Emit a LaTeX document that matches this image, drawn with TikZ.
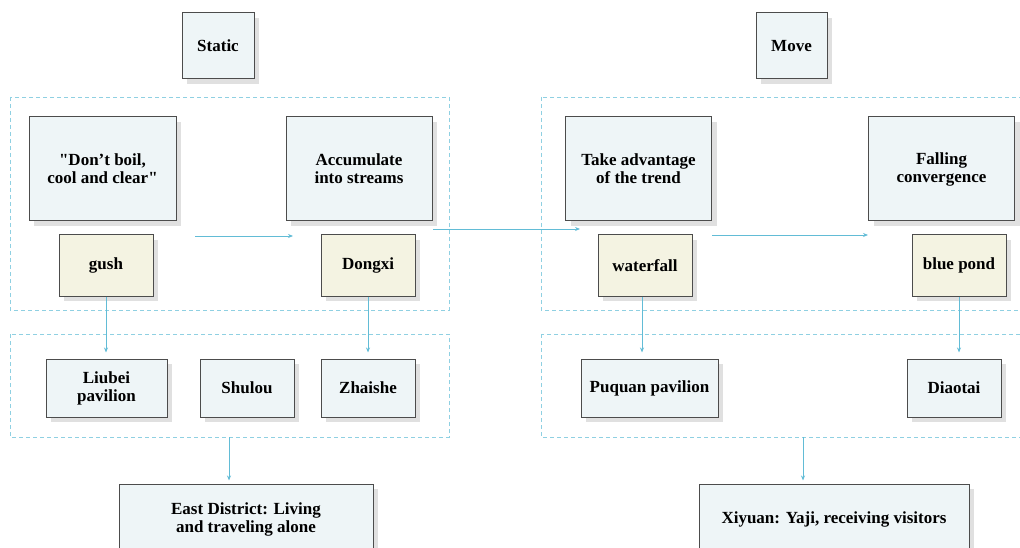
\documentclass[tikz,border=0pt]{standalone}
\usepackage{fontspec}
\setmainfont{Liberation Serif}[Ligatures=TeXOff]
\usetikzlibrary{shapes, positioning, shadows, arrows.meta}
\definecolor{boxfill}{HTML}{EEF5F7}
\definecolor{leaffill}{HTML}{F4F3E2}
\definecolor{linkblue}{HTML}{62BCD6}
\definecolor{grpblue}{HTML}{8FD0E2}
\begin{document}
\begin{tikzpicture}[x=1pt, y=-1pt,
  box/.style={draw=black!70, line width=1pt, fill=boxfill, align=center,
    font=\bfseries\fontsize{17}{18}\selectfont, inner sep=2pt,
    drop shadow={shadow xshift=5pt, shadow yshift=-5pt, fill=black!20, opacity=0.6}},
  leaf/.style={box, fill=leaffill},
  group/.style={draw=grpblue, line width=0.9pt, dash pattern=on 4pt off 3pt},
  link/.style={draw=linkblue, line width=0.9pt, -{Stealth[length=5pt, width=4pt]}}]
\useasboundingbox (0,0) rectangle (1020,548);
% dashed groups
\draw[group] (10,97) rectangle (449,310);
\draw[group] (541,97) rectangle (1024,310);
\draw[group] (10,334) rectangle (449,437);
\draw[group] (541,334) rectangle (1024,437);

\node[box, minimum width=72pt, minimum height=66pt] (static) at (218,46) {Static};
\node[box, minimum width=71pt, minimum height=66pt] (move) at (791.5,46) {Move};

\node[box, minimum width=147pt, minimum height=104pt] (boil) at (102.5,169) {"Don’t boil,\\cool and clear"};
\node[box, minimum width=146pt, minimum height=104pt] (accum) at (359,169) {Accumulate\\into streams};
\node[box, minimum width=146pt, minimum height=104pt] (trend) at (638.5,169) {Take advantage\\of the trend};
\node[box, minimum width=146pt, minimum height=104pt] (falling) at (941.5,169) {Falling\\convergence};

\node[leaf, minimum width=94pt, minimum height=61pt] (gush) at (106,265.5) {gush};
\node[leaf, minimum width=94pt, minimum height=61pt] (dongxi) at (368,265.5) {Dongxi};
\node[leaf, minimum width=94pt, minimum height=61pt] (waterfall) at (645,265.5) {waterfall};
\node[leaf, minimum width=94pt, minimum height=61pt] (bluepond) at (959,265.5) {blue pond};

\node[box, minimum width=121pt, minimum height=58pt] (liubei) at (106.5,388) {Liubei\\pavilion};
\node[box, minimum width=94pt, minimum height=58pt] (shulou) at (247,388) {Shulou};
\node[box, minimum width=94pt, minimum height=58pt] (zhaishe) at (368,388) {Zhaishe};
\node[box, minimum width=137pt, minimum height=58pt] (puquan) at (649.5,388) {Puquan pavilion};
\node[box, minimum width=94pt, minimum height=58pt] (diaotai) at (954,388) {Diaotai};

\node[box, minimum width=254pt, minimum height=70pt] (east) at (246,519) {East District: Living\\and traveling alone};
\node[box, minimum width=270pt, minimum height=70pt] (xiyuan) at (834,519) {Xiyuan: Yaji, receiving visitors};

\coordinate (flowA) at (195,236);
\coordinate (flowB) at (293,236);
\coordinate (flowC) at (433,229);
\coordinate (flowD) at (580,229);
\coordinate (flowE) at (712,235);
\coordinate (flowF) at (868,235);
\coordinate (eastin) at (229,437);
\coordinate (westin) at (803,437);

\draw[link] (flowA) -- (flowB);
\draw[link] (flowC) -- (flowD);
\draw[link] (flowE) -- (flowF);

\draw[link, shorten >=6pt] (gush) -- (gush |- liubei.north);
\draw[link, shorten >=6pt] (dongxi) -- (dongxi |- zhaishe.north);
\draw[link, shorten >=6pt] (waterfall.south) ++(-3,0) coordinate (wf) -- (wf |- puquan.north);
\draw[link, shorten >=6pt] (bluepond.south) -- (bluepond.south |- diaotai.north);
\draw[link, shorten >=3pt] (eastin) -- (eastin |- east.north);
\draw[link, shorten >=3pt] (westin) -- (westin |- xiyuan.north);

\end{tikzpicture}
\end{document}
